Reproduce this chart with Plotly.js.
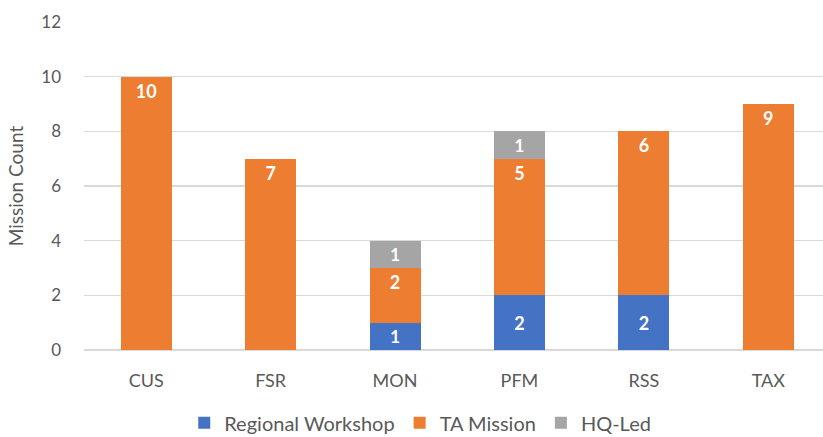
<!DOCTYPE html>
<html><head><meta charset="utf-8">
<script src="https://cdn.plot.ly/plotly-3.0.1.min.js"></script>
<style>html,body{margin:0;padding:0;background:#fff;}#chart{width:823px;height:437px;}</style>
</head><body><div id="chart"></div>
<script>
const categories = ["CUS", "FSR", "MON", "PFM", "RSS", "TAX"];
const regionalWorkshop = [null, null, 1, 2, 2, null];
const taMission = [10, 7, 2, 5, 6, 9];
const hqLed = [null, null, 1, 1, null, null];
const yTicks = [0, 2, 4, 6, 8, 10, 12];

const font = "Lato, 'Open Sans', sans-serif";
function mk(name, y, color, anchor) {
  return {
    type: "bar", name: name, x: categories, y: y,
    marker: {color: color},
    width: 0.41,
    text: y.map(v => v == null ? "" : String(v)),
    textposition: "inside", insidetextanchor: anchor, textangle: 0,
    textfont: {family: font, size: 18, color: "#ffffff", weight: "bold"},
    hoverinfo: "x+y+name"
  };
}
const data = [
  mk("Regional Workshop", regionalWorkshop, "#4472C4", "middle"),
  mk("TA Mission", taMission, "#ED7D31", "end"),
  mk("HQ-Led", hqLed, "#A5A5A5", "middle")
];
const layout = {
  width: 823, height: 437,
  margin: {l: 84, r: 0, t: 22, b: 87, autoexpand: false},
  barmode: "stack",
  paper_bgcolor: "#fff", plot_bgcolor: "#fff",
  font: {family: font, color: "#595959"},
  xaxis: {
    range: [-0.5, 5.44], type: "category", automargin: false,
    tickfont: {size: 18, color: "#595959"},
    showgrid: false, ticks: "", showline: false,
    ticklabelstandoff: 18
  },
  yaxis: {
    range: [0, 12], tickvals: yTicks, automargin: false,
    tickfont: {size: 17, color: "#595959"},
    gridcolor: "#d9d9d9", gridwidth: 1.3,
    zeroline: true, zerolinecolor: "#d9d9d9", zerolinewidth: 1.3,
    ticklabelstandoff: 22,
    title: {text: "Mission Count", font: {size: 19, color: "#595959"}, standoff: 12}
  },
  showlegend: true,
  legend: {
    orientation: "h", x: 0.455, xanchor: "center", y: -0.222, yanchor: "middle",
    font: {size: 20, color: "#595959"}, traceorder: "normal", itemwidth: 30
  }
};
Plotly.newPlot("chart", data, layout, {displayModeBar: false, staticPlot: true});
</script></body></html>
